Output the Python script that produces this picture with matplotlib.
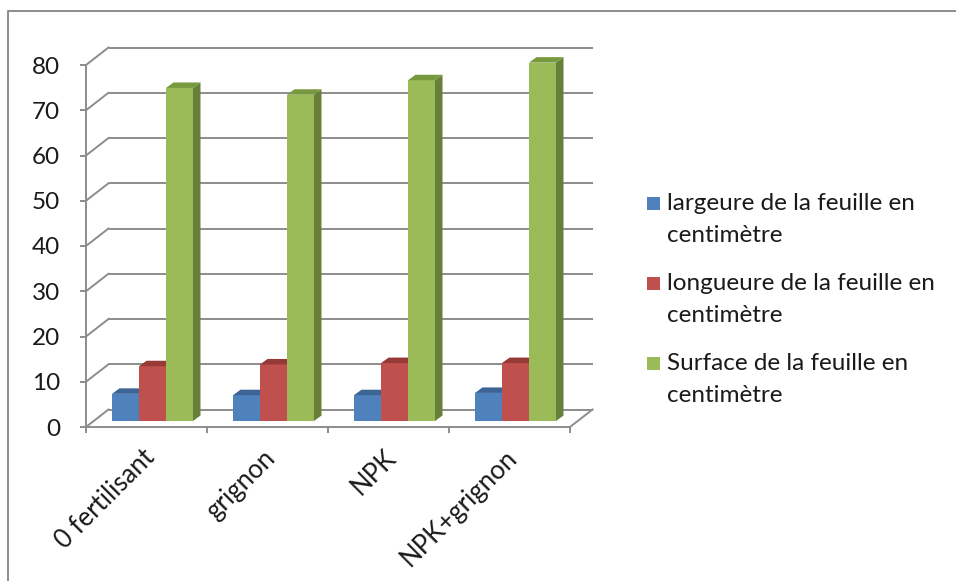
import matplotlib
matplotlib.use("Agg")
import matplotlib.pyplot as plt
from matplotlib.patches import Polygon, Rectangle
from matplotlib.lines import Line2D
from matplotlib.transforms import ScaledTranslation

plt.rcParams['font.family'] = ['Lato', 'DejaVu Sans']

categories = ["0 fertilisant", "grignon", "NPK", "NPK+grignon"]
series_names = ["largeure de la feuille en\ncentimètre",
                "longueure de la feuille en\ncentimètre",
                "Surface de la feuille en\ncentimètre"]
largeur = [6.0, 5.7, 5.7, 6.2]
longueur = [12.1, 12.5, 12.8, 12.8]
surface = [73.6, 72.1, 75.3, 79.2]
y_ticks = [0, 10, 20, 30, 40, 50, 60, 70, 80]

series = [largeur, longueur, surface]
front_cols = ['#4F81BD', '#C0504D', '#9BBB59']
top_cols = ['#3C6595', '#953A37', '#789A3E']
side_cols = ['#3A5E8A', '#8E3835', '#687F39']
grid_col = '#8C8C8C'
txt_col = '#1a1a1a'
FS = 17.5

W, H = 956, 581
fig = plt.figure(figsize=(W / 100, H / 100), dpi=100)
fig.patch.set_facecolor('white')

# front plane in pixels
x0p, x1p, y0p, y1p = 86, 570, 427, 65
ax = fig.add_axes([x0p / W, (H - y0p) / H, (x1p - x0p) / W, (y0p - y1p) / H])
ax.set_xlim(-0.5, 3.5)
ax.set_ylim(0, 80)
ax.patch.set_visible(False)

ppx = (x1p - x0p) / 4.0      # pixels per x unit
ppy = (y0p - y1p) / 80.0     # pixels per y unit


def d(dxp, dyp):
    return dxp / ppx, dyp / ppy


# back wall and floor
bx, by = d(22.5, 17.5)
for v in y_ticks:
    ax.plot([-0.5 + bx, 3.5 + bx], [v + by, v + by], color=grid_col, lw=1.4,
            clip_on=False, zorder=1, solid_capstyle='butt')
    ax.plot([-0.5, -0.5 + bx], [v, v + by], color=grid_col, lw=1.4,
            clip_on=False, zorder=1)
ax.plot([3.5, 3.5 + bx], [0, by], color=grid_col, lw=1.4, clip_on=False, zorder=1)

# bars
ox, oy = d(6, 6)
bw = 27 / ppx
sx, sy = d(7.5, 5.5)
for j, vals in enumerate(series):
    xs = [i + (j - 1) * bw + ox for i in range(len(categories))]
    bars = ax.bar(xs, vals, width=bw, bottom=oy, color=front_cols[j],
                  edgecolor='none', zorder=3 + j, clip_on=False)
    for b in bars:
        xl = b.get_x()
        xr = xl + b.get_width()
        yt = b.get_y() + b.get_height()
        yb = b.get_y()
        ax.add_patch(Polygon([(xl, yt), (xr, yt), (xr + sx, yt + sy), (xl + sx, yt + sy)],
                             closed=True, facecolor=top_cols[j], edgecolor='none',
                             zorder=3 + j, clip_on=False))
        ax.add_patch(Polygon([(xr, yb), (xr, yt), (xr + sx, yt + sy), (xr + sx, yb + sy)],
                             closed=True, facecolor=side_cols[j], edgecolor='none',
                             zorder=3 + j - 0.5, clip_on=False))

# axes
for s in ['top', 'right']:
    ax.spines[s].set_visible(False)
for s in ['left', 'bottom']:
    ax.spines[s].set_color(grid_col)
    ax.spines[s].set_linewidth(1.4)
    ax.spines[s].set_zorder(2)

ax.set_yticks(y_ticks)
ax.set_yticklabels([str(v) for v in y_ticks])
ax.tick_params(axis='y', length=4.5, width=1.4, color=grid_col, pad=14,
               labelsize=FS, labelcolor=txt_col)

ax.set_xticks([-0.5, 0.5, 1.5, 2.5, 3.5])
ax.set_xticklabels([])
ax.tick_params(axis='x', which='major', length=4.5, width=1.4, color=grid_col)
ax.set_xticks(range(len(categories)), minor=True)
ax.set_xticklabels(categories, minor=True, rotation=45, ha='right',
                   rotation_mode='anchor', fontsize=18.5, color=txt_col)
ax.tick_params(axis='x', which='minor', length=0, pad=13)
for lbl in ax.get_xticklabels(minor=True):
    lbl.set_transform(lbl.get_transform() + ScaledTranslation(-5 / 100, 0, fig.dpi_scale_trans))

# legend
for j, name in enumerate(series_names):
    yc = 203 + 80 * j
    fig.add_artist(Rectangle((647 / W, (H - yc - 6.5) / H), 13 / W, 13 / H,
                             transform=fig.transFigure, facecolor=front_cols[j],
                             edgecolor='none'))
    for k, line in enumerate(name.split('\n')):
        fig.text(667 / W, (H - yc - 32 * k) / H, line, fontsize=FS,
                 va='center', ha='left', color=txt_col)

# outer border
fig.add_artist(Line2D([8 / W, 8 / W, 1.0], [0.0, 1 - 11 / H, 1 - 11 / H],
                      transform=fig.transFigure, color='#8C8C8C', lw=1.4))

fig.savefig('out.png', dpi=100)
